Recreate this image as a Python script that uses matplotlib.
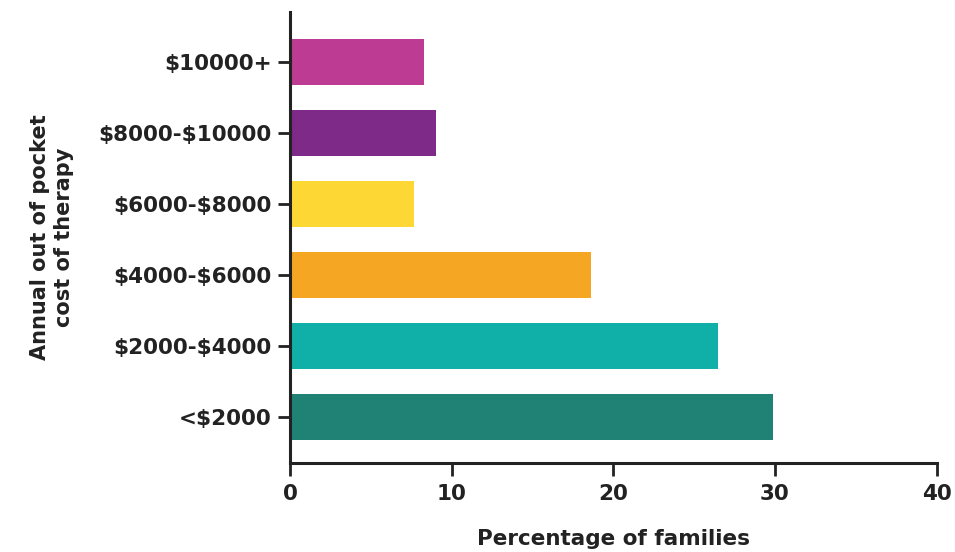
import numpy as np
import matplotlib.pyplot as plt

categories = ["<$2000", "$2000-$4000", "$4000-$6000", "$6000-$8000", "$8000-$10000", "$10000+"]
percent = [29.9, 26.5, 18.6, 7.7, 9.0, 8.3]
colors = ["#1F8275", "#10AFA8", "#F5A623", "#FDD835", "#7E2A88", "#BE3B93"]

plt.rcParams['font.family'] = ['DejaVu Sans']
plt.rcParams['text.parse_math'] = False

fig = plt.figure(figsize=(9.55, 5.52), dpi=100)
ax = fig.add_axes([0.3037, 0.1612, 0.677, 0.817])

y = np.arange(len(categories))
ax.barh(y, percent, height=0.65, color=colors)

ax.set_xlim(0, 40)
ax.set_ylim(-0.65, 5.7)
ax.set_xticks([0, 10, 20, 30, 40])
ax.set_yticks(y)
ax.set_yticklabels(categories)

for s in ["top", "right"]:
    ax.spines[s].set_visible(False)
for s in ["left", "bottom"]:
    ax.spines[s].set_linewidth(2.2)
    ax.spines[s].set_color("#222222")

ax.tick_params(axis="both", length=9, width=2, color="#222222",
               labelsize=15.5, labelcolor="#222222", pad=4)
ax.tick_params(axis="x", pad=6)
for lbl in ax.get_xticklabels() + ax.get_yticklabels():
    lbl.set_fontweight("bold")

ax.set_xlabel("Percentage of families", fontsize=15.5, fontweight="bold",
              color="#222222", labelpad=18)
ax.set_ylabel("Annual out of pocket\ncost of therapy", fontsize=15,
              fontweight="bold", color="#222222", labelpad=18, linespacing=1.25)

fig.savefig("out.png", dpi=100)
